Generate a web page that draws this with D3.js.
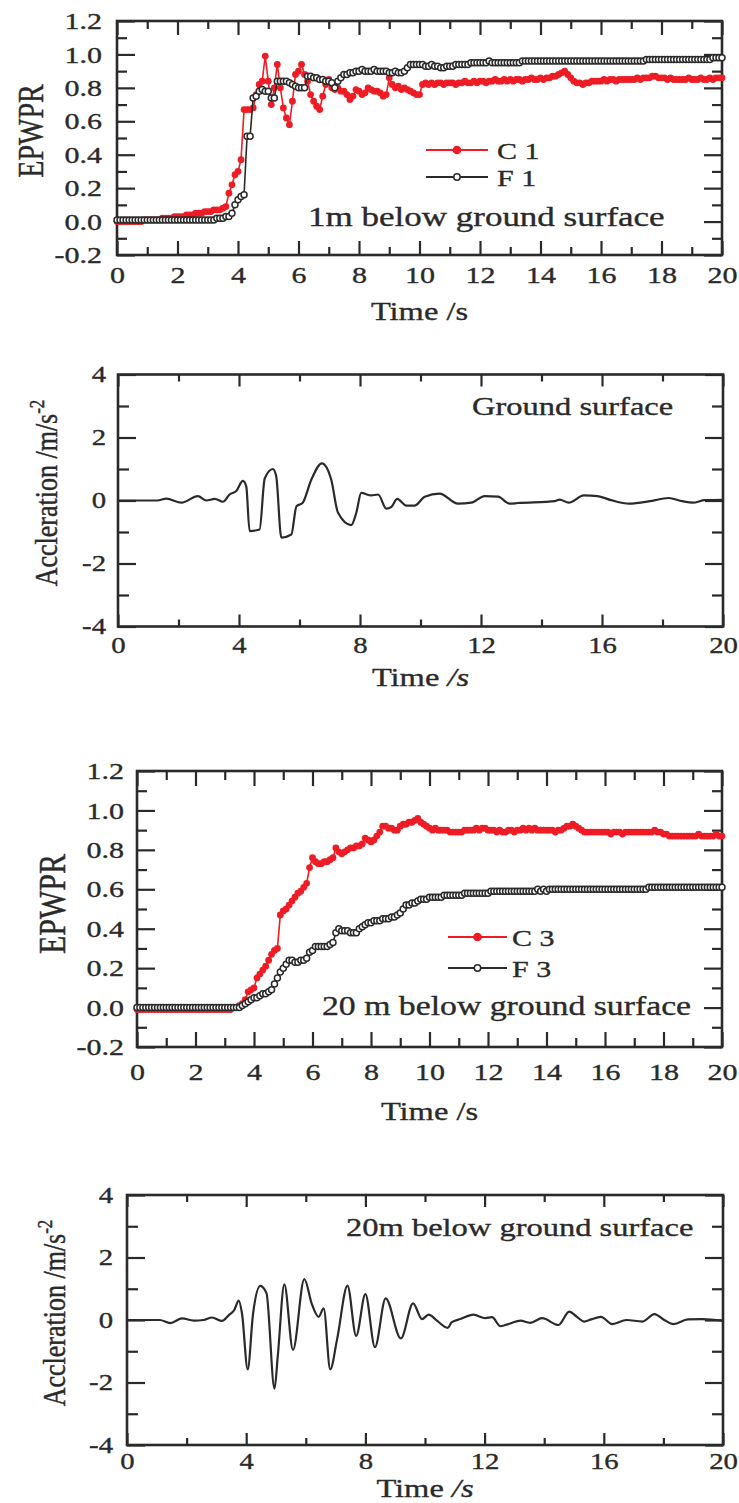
<!DOCTYPE html>
<html>
<head>
<meta charset="utf-8">
<script src="https://cdn.jsdelivr.net/npm/d3@7"></script>
<style>
  body { margin: 0; background: #fff; }
  svg { display: block; }
  text { stroke: #2a2a2a; stroke-width: 0.35px; }
</style>
</head>
<body>
<svg id="fig" width="739" height="1503"></svg>
<script>
// EPWPR records are sampled every 0.1 s from 0 to 20 s
const epTime = d3.range(201).map(i => i / 10);

const c1 = [
  0.00,0.00,0.00,0.00,0.00,0.00,0.00,0.00,0.00,0.01,
  0.01,0.01,0.01,0.01,0.01,0.02,0.02,0.02,0.02,0.03,
  0.03,0.03,0.03,0.04,0.04,0.04,0.05,0.05,0.05,0.06,
  0.06,0.06,0.07,0.07,0.07,0.08,0.09,0.17,0.22,0.28,
  0.30,0.37,0.67,0.67,0.67,0.68,0.76,0.82,0.84,0.99,
  0.84,0.70,0.80,0.94,0.80,0.68,0.62,0.58,0.72,0.88,
  0.90,0.94,0.88,0.84,0.76,0.72,0.69,0.67,0.75,0.82,
  0.85,0.80,0.79,0.80,0.78,0.78,0.76,0.73,0.75,0.79,
  0.78,0.76,0.77,0.80,0.79,0.78,0.78,0.77,0.75,0.76,
  0.86,0.82,0.80,0.81,0.79,0.80,0.79,0.78,0.77,0.76,
  0.76,0.82,0.83,0.82,0.83,0.82,0.83,0.83,0.82,0.83,
  0.83,0.83,0.82,0.83,0.83,0.84,0.83,0.83,0.84,0.83,
  0.84,0.84,0.83,0.84,0.84,0.85,0.84,0.84,0.85,0.84,
  0.85,0.84,0.85,0.85,0.84,0.85,0.85,0.86,0.85,0.85,
  0.86,0.85,0.86,0.86,0.87,0.87,0.88,0.89,0.90,0.88,
  0.86,0.84,0.83,0.83,0.82,0.83,0.83,0.84,0.84,0.84,
  0.84,0.85,0.84,0.85,0.85,0.84,0.85,0.85,0.85,0.85,
  0.85,0.85,0.86,0.85,0.86,0.86,0.86,0.87,0.87,0.86,
  0.86,0.86,0.85,0.86,0.85,0.85,0.85,0.85,0.85,0.86,
  0.85,0.85,0.85,0.86,0.85,0.85,0.86,0.85,0.86,0.86,
  0.86
];

const f1 = [
  0.01,0.01,0.01,0.01,0.01,0.01,0.01,0.01,0.01,0.01,
  0.01,0.01,0.01,0.01,0.01,0.01,0.01,0.01,0.01,0.01,
  0.01,0.01,0.01,0.01,0.01,0.01,0.01,0.01,0.01,0.01,
  0.01,0.01,0.01,0.02,0.02,0.02,0.03,0.03,0.05,0.10,
  0.13,0.15,0.16,0.51,0.51,0.74,0.75,0.78,0.79,0.78,
  0.78,0.74,0.74,0.84,0.84,0.84,0.84,0.83,0.82,0.81,
  0.80,0.80,0.80,0.87,0.87,0.86,0.86,0.85,0.85,0.84,
  0.84,0.83,0.80,0.84,0.86,0.88,0.88,0.89,0.89,0.90,
  0.90,0.91,0.90,0.90,0.90,0.91,0.90,0.90,0.90,0.90,
  0.89,0.89,0.90,0.89,0.89,0.90,0.92,0.94,0.94,0.94,
  0.94,0.94,0.93,0.93,0.94,0.93,0.93,0.92,0.92,0.93,
  0.93,0.93,0.94,0.94,0.94,0.94,0.94,0.95,0.95,0.95,
  0.95,0.95,0.95,0.96,0.95,0.95,0.95,0.95,0.95,0.95,
  0.95,0.95,0.95,0.95,0.96,0.96,0.96,0.96,0.96,0.96,
  0.96,0.96,0.96,0.96,0.96,0.96,0.96,0.96,0.96,0.96,
  0.96,0.96,0.96,0.96,0.96,0.96,0.96,0.96,0.96,0.96,
  0.96,0.96,0.96,0.96,0.96,0.96,0.96,0.96,0.96,0.96,
  0.96,0.96,0.96,0.96,0.96,0.97,0.97,0.97,0.97,0.97,
  0.97,0.97,0.97,0.97,0.97,0.97,0.97,0.97,0.97,0.97,
  0.97,0.97,0.97,0.97,0.97,0.97,0.97,0.98,0.98,0.98,
  0.98
];

const c3 = [
  -0.01,-0.01,-0.01,-0.01,-0.01,-0.01,-0.01,-0.01,-0.01,-0.01,
  -0.01,-0.01,-0.01,-0.01,-0.01,-0.01,-0.01,-0.01,-0.01,-0.01,
  -0.01,-0.01,-0.01,-0.01,-0.01,-0.01,-0.01,-0.01,-0.01,-0.01,
  -0.01,-0.01,-0.01,0.00,0.00,0.01,0.02,0.04,0.08,0.09,
  0.10,0.15,0.17,0.19,0.21,0.24,0.27,0.29,0.30,0.47,
  0.49,0.50,0.52,0.54,0.56,0.58,0.59,0.61,0.63,0.71,
  0.76,0.74,0.73,0.73,0.74,0.74,0.75,0.76,0.81,0.79,
  0.78,0.79,0.80,0.81,0.81,0.82,0.82,0.83,0.86,0.85,
  0.84,0.85,0.87,0.89,0.92,0.92,0.91,0.91,0.90,0.90,
  0.92,0.93,0.93,0.94,0.94,0.95,0.96,0.94,0.93,0.92,
  0.91,0.90,0.91,0.90,0.90,0.90,0.90,0.89,0.89,0.89,
  0.89,0.89,0.90,0.90,0.90,0.90,0.91,0.90,0.91,0.91,
  0.90,0.90,0.90,0.89,0.90,0.89,0.89,0.90,0.90,0.89,
  0.90,0.90,0.91,0.90,0.91,0.90,0.91,0.90,0.90,0.90,
  0.90,0.90,0.90,0.89,0.90,0.90,0.91,0.92,0.92,0.93,
  0.92,0.91,0.90,0.89,0.89,0.89,0.89,0.89,0.89,0.89,
  0.89,0.89,0.88,0.89,0.89,0.89,0.88,0.89,0.89,0.89,
  0.89,0.89,0.89,0.89,0.89,0.89,0.89,0.90,0.89,0.89,
  0.88,0.88,0.87,0.87,0.87,0.87,0.87,0.87,0.87,0.87,
  0.87,0.87,0.88,0.87,0.87,0.87,0.87,0.87,0.88,0.87,
  0.87
];

const f3 = [
  0.00,0.00,0.00,0.00,0.00,0.00,0.00,0.00,0.00,0.00,
  0.00,0.00,0.00,0.00,0.00,0.00,0.00,0.00,0.00,0.00,
  0.00,0.00,0.00,0.00,0.00,0.00,0.00,0.00,0.00,0.00,
  0.00,0.00,0.00,0.00,0.00,0.00,0.01,0.02,0.03,0.04,
  0.05,0.05,0.06,0.07,0.07,0.08,0.09,0.12,0.15,0.18,
  0.20,0.22,0.24,0.24,0.23,0.23,0.24,0.24,0.25,0.28,
  0.29,0.31,0.31,0.31,0.31,0.31,0.32,0.33,0.38,0.40,
  0.39,0.39,0.39,0.38,0.38,0.38,0.40,0.41,0.42,0.43,
  0.43,0.44,0.44,0.44,0.45,0.45,0.45,0.46,0.46,0.47,
  0.48,0.50,0.52,0.52,0.53,0.53,0.54,0.55,0.55,0.55,
  0.56,0.56,0.56,0.56,0.56,0.57,0.57,0.57,0.57,0.57,
  0.57,0.57,0.58,0.58,0.58,0.58,0.58,0.58,0.58,0.58,
  0.58,0.59,0.59,0.59,0.59,0.59,0.59,0.59,0.59,0.59,
  0.59,0.59,0.59,0.59,0.59,0.59,0.59,0.60,0.59,0.60,
  0.59,0.60,0.60,0.60,0.60,0.60,0.60,0.60,0.60,0.60,
  0.60,0.60,0.60,0.60,0.60,0.60,0.60,0.60,0.60,0.60,
  0.60,0.60,0.60,0.60,0.60,0.60,0.60,0.60,0.60,0.60,
  0.60,0.60,0.60,0.60,0.60,0.61,0.61,0.61,0.61,0.61,
  0.61,0.61,0.61,0.61,0.61,0.61,0.61,0.61,0.61,0.61,
  0.61,0.61,0.61,0.61,0.61,0.61,0.61,0.61,0.61,0.61,
  0.61
];

// acceleration traces, points
const gsTime = [0, 1.3, 1.6, 2.1, 2.64, 2.92, 3.2, 3.47, 3.69, 3.91, 4.13, 4.24, 4.35, 4.68, 4.85, 5.12, 5.23, 5.4, 5.73, 5.9,
  6.1, 6.39, 6.74, 7.05, 7.27, 7.71, 7.88, 8.04, 8.37, 8.6, 8.87, 9.04, 9.23, 9.53, 9.81, 10.14, 10.63, 11.24, 11.68, 12.12,
  12.56, 12.95, 13.22, 14.45, 14.6, 14.9, 15.4, 15.85, 16.3, 16.9, 17.6, 18.2, 18.65, 19.0, 19.4, 20];
const gsAcc = [0, 0, 0.06, -0.07, 0.14, 0, 0.05, -0.04, 0.19, 0.3, 0.62, 0.45, -0.97, -0.92, 0.7, 1.0, 0.77, -1.18, -1.08, -0.18,
  -0.08, 0.66, 1.18, 0.66, -0.38, -0.78, -0.38, 0.24, 0.16, 0.19, -0.26, -0.2, 0.05, -0.16, -0.16, 0.12, 0.22, -0.1, -0.07, 0.14,
  0.12, -0.1, -0.08, -0.02, 0.03, -0.07, 0.16, 0.14, 0.01, -0.1, -0.02, 0.08, -0.02, -0.07, 0.01, 0.02];

const dsTime = [0, 1.1, 1.45, 1.85, 2.24, 2.57, 2.85, 3.19, 3.41, 3.6, 3.75, 3.86, 4.05, 4.23, 4.47, 4.68, 4.95, 5.06, 5.28, 5.57,
  5.95, 6.21, 6.43, 6.6, 6.82, 7.05, 7.4, 7.69, 8.0, 8.32, 8.68, 9.19, 9.6, 9.9, 10.12, 10.4, 10.76, 10.9, 11.19, 11.63,
  12.02, 12.25, 12.53, 12.86, 13.2, 13.53, 13.93, 14.48, 14.84, 15.1, 15.34, 15.58, 15.9, 16.29, 16.76, 17.3, 17.7, 18.03, 18.34, 18.82,
  19.3, 20];
const dsAcc = [0, 0, -0.1, 0.05, -0.02, 0, 0.08, -0.03, 0.15, 0.32, 0.62, 0.2, -1.58, 0.2, 1.09, 0.86, -2.2, -1.15, 1.14, -0.96,
  1.31, 0.49, 0.1, 0.37, -1.58, -0.62, 1.1, -0.51, 0.83, -0.87, 0.69, -0.59, 0.53, 0.03, 0.17, -0.02, -0.25, -0.07, 0.03, 0.17,
  0.06, 0.09, -0.2, -0.11, -0.02, -0.09, 0.06, -0.16, 0.27, 0.1, -0.05, 0.02, 0.1, -0.13, 0, -0.05, 0.19, 0, -0.13, 0.02,
  0.03, -0.02];

// ticks
const epXMajor = [0, 2, 4, 6, 8, 10, 12, 14, 16, 18, 20];
const epXMinor = [1, 3, 5, 7, 9, 11, 13, 15, 17, 19];
const epYMajor = [-0.2, 0, 0.2, 0.4, 0.6, 0.8, 1.0, 1.2];
const epYMinor = [-0.1, 0.1, 0.3, 0.5, 0.7, 0.9, 1.1];
const acXMajor = [0, 4, 8, 12, 16, 20];
const acXMinor = [2, 6, 10, 14, 18];
const acYMajor = [-4, -2, 0, 2, 4];
const acYMinor = [-3, -1, 1, 3];

const svg = d3.select('#fig');
const FONT = '"Liberation Serif", "Times New Roman", serif';
const INK = '#2a2a2a';
const RED = '#ee1c25';
const SX = 1.25; // the figure is stretched horizontally

const addText = (x, y, txt, size, anchor = 'start') => svg.append('text')
  .attr('transform', `translate(${x},${y}) scale(${SX},1)`)
  .attr('text-anchor', anchor)
  .attr('font-family', FONT)
  .attr('font-size', size)
  .attr('fill', INK)
  .text(txt);

const frame = (p) => {
  const x = d3.scaleLinear().domain([0, 20]).range([p.left, p.right]);
  const y = d3.scaleLinear().domain(p.yDomain).range([p.bottom, p.top]);
  const g = svg.append('g');

  const ax = (gen, vals, len, tr, fmt, pad) => {
    const a = g.append('g').attr('transform', tr)
      .call(gen.tickValues(vals).tickSizeInner(-len).tickSizeOuter(0)
        .tickPadding(pad || 0).tickFormat(fmt || (() => '')));
    a.select('.domain').remove();
    a.selectAll('line').attr('stroke', INK).attr('stroke-width', 2.2);
    a.attr('font-family', FONT).attr('font-size', p.tickFont);
    a.selectAll('text').attr('fill', INK).attr('transform', `scale(${SX},1)`);
    return a;
  };

  ax(d3.axisBottom(x), p.xMajor, p.xMajLen, `translate(0,${p.bottom})`, d => d, p.xPad);
  ax(d3.axisBottom(x), p.xMinor, p.xMinLen, `translate(0,${p.bottom})`);
  ax(d3.axisTop(x), p.xMajor, p.xMajLen, `translate(0,${p.top})`);
  ax(d3.axisTop(x), p.xMinor, p.xMinLen, `translate(0,${p.top})`);
  ax(d3.axisLeft(y), p.yMajor, p.yMajLen, `translate(${p.left},0)`, p.yFmt, p.yPad / SX);
  ax(d3.axisLeft(y), p.yMinor, p.yMinLen, `translate(${p.left},0)`);
  ax(d3.axisRight(y), p.yMajor, p.yMajLen, `translate(${p.right},0)`);
  ax(d3.axisRight(y), p.yMinor, p.yMinLen, `translate(${p.right},0)`);

  g.append('rect')
    .attr('x', p.left).attr('y', p.top)
    .attr('width', p.right - p.left).attr('height', p.bottom - p.top)
    .attr('fill', 'none').attr('stroke', INK).attr('stroke-width', 2.6);

  // x title
  const xt = addText((p.left + p.right) / 2, p.xTitleY, 'Time ', p.titleFont, 'middle');
  xt.append('tspan').attr('font-style', p.italicS ? 'italic' : 'normal').text('/s');

  // y title
  const yt = svg.append('text')
    .attr('transform', `translate(${p.yTitleX},${p.yTitleY}) rotate(-90) scale(1,${SX})`)
    .attr('text-anchor', 'middle')
    .attr('dominant-baseline', 'central')
    .attr('font-family', FONT)
    .attr('font-size', p.yTitleFont)
    .attr('fill', INK)
    .text(p.yTitle);
  if (p.yTitleSup) {
    yt.append('tspan').attr('dy', '-0.45em').attr('font-size', '0.65em').text(p.yTitleSup);
  }
  return { x, y };
};

const epPanel = (p, cData, fData, names, legend, note) => {
  const { x, y } = frame(Object.assign({
    yDomain: [-0.2, 1.2], xMajor: epXMajor, xMinor: epXMinor, yMajor: epYMajor, yMinor: epYMinor,
    yFmt: d => d.toFixed(1), yTitle: 'EPWPR'
  }, p));

  const line = d3.line().x((d, i) => x(epTime[i])).y(d => y(d));

  svg.append('path').datum(cData)
    .attr('d', line).attr('fill', 'none').attr('stroke', RED).attr('stroke-width', 1.6);
  svg.append('g').selectAll('circle').data(cData).join('circle')
    .attr('cx', (d, i) => x(epTime[i])).attr('cy', d => y(d))
    .attr('r', 3.4).attr('fill', RED);

  svg.append('path').datum(fData)
    .attr('d', line).attr('fill', 'none').attr('stroke', INK).attr('stroke-width', 1.6);
  svg.append('g').selectAll('circle').data(fData).join('circle')
    .attr('cx', (d, i) => x(epTime[i])).attr('cy', d => y(d))
    .attr('r', 3).attr('fill', '#fff').attr('stroke', INK).attr('stroke-width', 1.5);

  // legend
  const L = legend;
  [[names[0], RED, true, L.y1], [names[1], INK, false, L.y2]].forEach(([name, col, filled, ly]) => {
    svg.append('line').attr('x1', L.x1).attr('x2', L.x2).attr('y1', ly).attr('y2', ly)
      .attr('stroke', col).attr('stroke-width', 2);
    svg.append('circle').attr('cx', (L.x1 + L.x2) / 2).attr('cy', ly).attr('r', filled ? 3.6 : 3.2)
      .attr('fill', filled ? col : '#fff').attr('stroke', col).attr('stroke-width', 1.5);
    addText(L.tx, ly + 9, name, L.font);
  });

  addText(note.x, note.y, note.text, note.font);
};

const acPanel = (p, tData, aData, note) => {
  const { x, y } = frame(Object.assign({
    yDomain: [-4, 4], xMajor: acXMajor, xMinor: acXMinor, yMajor: acYMajor, yMinor: acYMinor,
    yFmt: d => String(d), yTitle: 'Accleration /m/s', yTitleSup: '-2', italicS: true
  }, p));

  const line = d3.line().x((d, i) => x(tData[i])).y(d => y(d)).curve(d3.curveMonotoneX);
  svg.append('path').datum(aData)
    .attr('d', line).attr('fill', 'none').attr('stroke', INK).attr('stroke-width', 2.2);

  addText(note.x, note.y, note.text, note.font);
};

epPanel({
  left: 117, right: 722, top: 21, bottom: 255,
  xMajLen: 14, xMinLen: 8, yMajLen: 18, yMinLen: 10,
  tickFont: 24, xPad: 11, yPad: 15,
  titleFont: 26, xTitleY: 320,
  yTitleX: 31, yTitleY: 131, yTitleFont: 28
}, c1, f1, ['C 1', 'F 1'],
  { x1: 426, x2: 488, y1: 150, y2: 177, tx: 497, font: 24 },
  { x: 308, y: 226, text: '1m below ground surface', font: 28 });

acPanel({
  left: 118, right: 723, top: 374.5, bottom: 626.5,
  xMajLen: 12, xMinLen: 7, yMajLen: 18, yMinLen: 11,
  tickFont: 23, xPad: 10, yPad: 12,
  titleFont: 26, xTitleY: 686,
  yTitleX: 46, yTitleY: 493, yTitleFont: 26
}, gsTime, gsAcc, { x: 472, y: 415, text: 'Ground surface', font: 26 });

epPanel({
  left: 137, right: 722, top: 771, bottom: 1047,
  xMajLen: 15, xMinLen: 9, yMajLen: 18, yMinLen: 10,
  tickFont: 24, xPad: 16, yPad: 13,
  titleFont: 26, xTitleY: 1120,
  yTitleX: 52, yTitleY: 904, yTitleFont: 30
}, c3, f3, ['C 3', 'F 3'],
  { x1: 448, x2: 507, y1: 937, y2: 968, tx: 512, font: 24 },
  { x: 322, y: 1015, text: '20 m below ground surface', font: 27 });

acPanel({
  left: 127, right: 723, top: 1195, bottom: 1445,
  xMajLen: 12, xMinLen: 7, yMajLen: 18, yMinLen: 11,
  tickFont: 23, xPad: 8, yPad: 14,
  titleFont: 26, xTitleY: 1497,
  yTitleX: 54, yTitleY: 1313, yTitleFont: 26
}, dsTime, dsAcc, { x: 346, y: 1236, text: '20m below ground surface', font: 26 });
</script>
</body>
</html>
